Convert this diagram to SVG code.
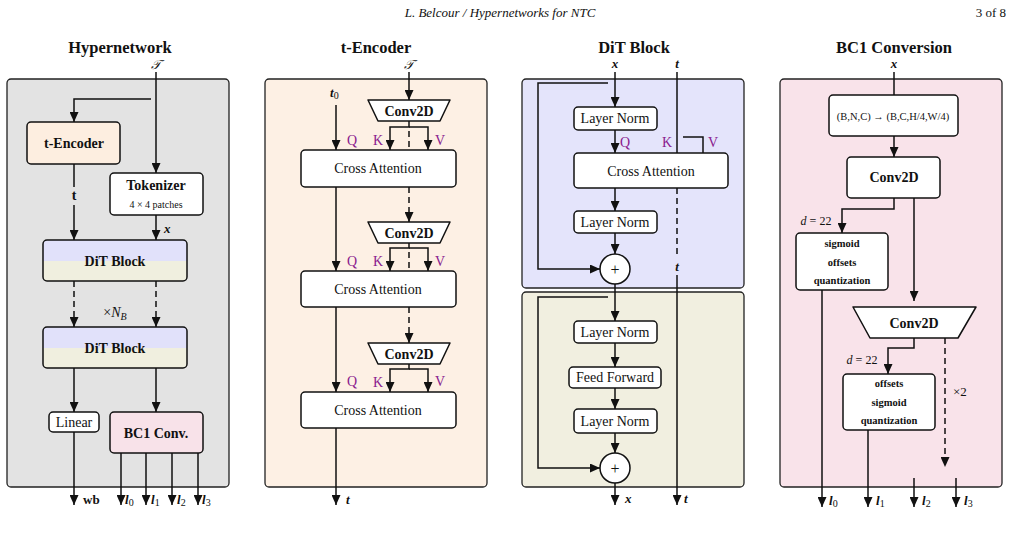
<svg xmlns="http://www.w3.org/2000/svg" width="1012" height="537" viewBox="0 0 1012 537">
<style>
text{font-family:"Liberation Serif","DejaVu Serif",serif;fill:#111}
.ttl{font-size:16.5px;font-weight:bold;text-anchor:middle}
.hd{font-size:13px;font-style:italic}
.lb{font-size:14px;text-anchor:middle}
.bl{font-size:14px;font-weight:bold;text-anchor:middle}
.sm{font-size:10.5px;font-weight:bold;text-anchor:middle}
.pu{font-size:14px;fill:#8a1a8e}
.vi{font-size:13px;font-weight:bold;font-style:italic}
.sub{font-size:10px;font-weight:normal;font-style:normal}
.cal{font-size:13px;font-style:italic;text-anchor:middle}
.panel{stroke:#222;stroke-width:1.3}
.box{fill:#fff;stroke:#111;stroke-width:1.5}
.c{fill:none;stroke:#111;stroke-width:1.5}
.a{marker-end:url(#ah)}
.d{stroke-dasharray:6 4}
</style>
<defs>
<marker id="ah" markerUnits="userSpaceOnUse" markerWidth="10" markerHeight="9" refX="10" refY="4.5" orient="auto">
<path d="M0,0 L10,4.5 L0,9 z" fill="#111"/>
</marker>
<linearGradient id="dit" x1="0" y1="0" x2="0" y2="1">
<stop offset="0.51" stop-color="#e1e1fa"/>
<stop offset="0.51" stop-color="#f0efdf"/>
</linearGradient>
</defs>

<text class="hd" x="500" y="17" text-anchor="middle">L. Belcour / Hypernetworks for NTC</text>
<text x="1006" y="17" font-size="13" text-anchor="end">3 of 8</text>

<!-- Panel backgrounds -->
<g id="panel-hyper">
<rect class="panel" x="7" y="79" width="222" height="408" rx="4" fill="#e3e3e3"/>
<text class="ttl" x="120" y="53">Hypernetwork</text>
<text class="cal" x="156" y="69">𝒯</text>
</g>
<g id="panel-tenc">
<rect class="panel" x="265" y="79" width="222" height="408" rx="4" fill="#fdf0e4"/>
<text class="ttl" x="376" y="53">t-Encoder</text>
<text class="cal" x="409" y="69">𝒯</text>
</g>
<g id="panel-dit">
<rect class="panel" x="522" y="79" width="222" height="209" rx="4" fill="#e4e4fb"/>
<rect class="panel" x="522" y="292" width="222" height="195" rx="4" fill="#f1efe0"/>
<text class="ttl" x="634" y="53">DiT Block</text>
<text class="vi" x="615" y="68" text-anchor="middle">x</text>
<text class="vi" x="677" y="68" text-anchor="middle">t</text>
</g>
<g id="panel-bc1">
<rect class="panel" x="780" y="79" width="222" height="408" rx="4" fill="#f9e3ea"/>
<text class="ttl" x="894" y="53">BC1 Conversion</text>
<text class="vi" x="894" y="68" text-anchor="middle">x</text>
</g>

<!-- Connectors -->
<g id="connectors">
<!-- Hypernetwork -->
<path class="c a" d="M156,72 V173"/>
<path class="c a" d="M151,99 H74 V122"/>
<path class="c" d="M74,164 V187"/>
<path class="c a" d="M74,205 V240"/>
<path class="c a" d="M156,215 V240"/>
<path class="c d a" d="M74,281 V327"/>
<path class="c d a" d="M156,281 V327"/>
<path class="c a" d="M74,368 V412"/>
<path class="c a" d="M156,368 V412"/>
<path class="c a" d="M74,432 V505"/>
<path class="c a" d="M121,453 V505"/>
<path class="c a" d="M146,453 V505"/>
<path class="c a" d="M172,453 V505"/>
<path class="c a" d="M198,453 V505"/>
<!-- t-Encoder -->
<path class="c a" d="M409,72 V100"/>
<path class="c a" d="M336,105 V150"/>
<path class="c a" d="M409,121 V127 H390 V150"/>
<path class="c a" d="M409,127 H428 V150"/>
<path class="c d" d="M409,131 V150"/>
<path class="c d a" d="M409,187 V222"/>
<path class="c a" d="M336,187 V271"/>
<path class="c a" d="M409,243 V248 H390 V271"/>
<path class="c a" d="M409,248 H428 V271"/>
<path class="c d" d="M409,252 V271"/>
<path class="c d a" d="M409,307 V343"/>
<path class="c a" d="M336,307 V392"/>
<path class="c a" d="M409,363 V369 H390 V392"/>
<path class="c a" d="M409,369 H428 V392"/>
<path class="c a" d="M336,428 V505"/>
<!-- DiT -->
<path class="c a" d="M615,72 V107"/>
<path class="c a" d="M608,83 H538 V269 H600"/>
<path class="c a" d="M615,130 V153"/>
<path class="c" d="M677,72 V153"/>
<path class="c" d="M683,137 H703 V153"/>
<path class="c a" d="M615,188 V211"/>
<path class="c a" d="M615,233 V254"/>
<path class="c d" d="M677,188 V258"/>
<path class="c a" d="M677,275 V505"/>
<path class="c a" d="M615,284 V321"/>
<path class="c a" d="M608,297 H538 V468 H600"/>
<path class="c a" d="M615,343 V367"/>
<path class="c a" d="M615,388 V409"/>
<path class="c a" d="M615,433 V453"/>
<path class="c a" d="M615,483 V505"/>
<!-- BC1 -->
<path class="c" d="M894,72 V95"/>
<path class="c a" d="M894,136 V157"/>
<path class="c a" d="M894,198 V209 H842 V233"/>
<path class="c a" d="M914,198 V301"/>
<path class="c a" d="M822,290 V507"/>
<path class="c a" d="M914,338 V348 H888 V374"/>
<path class="c a" d="M868,430 V507"/>
<path class="c d a" d="M945,338 V467"/>
<path class="c a" d="M914,478 V507"/>
<path class="c a" d="M956,478 V507"/>
</g>

<!-- Hypernetwork nodes -->
<g id="h-tenc"><rect class="box" x="27" y="122" width="93" height="42" rx="4" style="fill:#fdeee0"/><text class="bl" x="74" y="148">t-Encoder</text></g>
<g id="h-tok"><rect class="box" x="110" y="173" width="93" height="42" rx="4"/><text class="bl" x="156" y="190">Tokenizer</text><text x="156" y="208" font-size="10" text-anchor="middle">4 × 4 patches</text></g>
<g id="h-dit1"><rect class="box" x="43" y="240" width="144" height="41" rx="4" style="fill:url(#dit)"/><text class="bl" x="115" y="266">DiT Block</text></g>
<g id="h-dit2"><rect class="box" x="43" y="327" width="144" height="41" rx="4" style="fill:url(#dit)"/><text class="bl" x="115" y="353">DiT Block</text></g>
<g id="h-linear"><rect class="box" x="49" y="412" width="50" height="20" rx="4"/><text class="lb" x="74" y="427">Linear</text></g>
<g id="h-bc1"><rect class="box" x="110" y="412" width="93" height="41" rx="4" style="fill:#f8e2e9"/><text class="bl" x="156" y="438">BC1 Conv.</text></g>
<g id="h-labels">
<text class="bl" x="74" y="200">t</text>
<text class="vi" x="164" y="233">x</text>
<text x="115" y="317" font-size="14" text-anchor="middle">×<tspan font-style="italic">N</tspan><tspan font-style="italic" font-size="10" dy="3">B</tspan></text>
<text x="83" y="504" font-size="13" font-weight="bold">wb</text>
<text class="vi" x="125" y="504">l<tspan class="sub" dy="2">0</tspan></text>
<text class="vi" x="151" y="504">l<tspan class="sub" dy="2">1</tspan></text>
<text class="vi" x="177" y="504">l<tspan class="sub" dy="2">2</tspan></text>
<text class="vi" x="202" y="504">l<tspan class="sub" dy="2">3</tspan></text>
</g>

<!-- t-Encoder nodes -->
<g id="e-conv1"><polygon class="box" points="368,100 450,100 440,121 378,121" stroke-linejoin="round"/><text class="bl" x="409" y="116">Conv2D</text></g>
<g id="e-ca1"><rect class="box" x="301" y="150" width="155" height="37" rx="4"/><text class="lb" x="378" y="173">Cross Attention</text></g>
<g id="e-conv2"><polygon class="box" points="368,222 450,222 440,243 378,243" stroke-linejoin="round"/><text class="bl" x="409" y="238">Conv2D</text></g>
<g id="e-ca2"><rect class="box" x="301" y="271" width="155" height="36" rx="4"/><text class="lb" x="378" y="294">Cross Attention</text></g>
<g id="e-conv3"><polygon class="box" points="368,343 450,343 440,364 378,364" stroke-linejoin="round"/><text class="bl" x="409" y="359">Conv2D</text></g>
<g id="e-ca3"><rect class="box" x="301" y="392" width="155" height="36" rx="4"/><text class="lb" x="378" y="415">Cross Attention</text></g>
<g id="e-labels">
<text class="vi" x="330" y="97">t<tspan class="sub" dy="2">0</tspan></text>
<text class="pu" x="347" y="145">Q</text><text class="pu" x="373" y="145">K</text><text class="pu" x="435" y="145">V</text>
<text class="pu" x="347" y="266">Q</text><text class="pu" x="373" y="266">K</text><text class="pu" x="435" y="266">V</text>
<text class="pu" x="347" y="386">Q</text><text class="pu" x="373" y="387">K</text><text class="pu" x="435" y="386">V</text>
<text class="vi" x="346" y="504">t</text>
</g>

<!-- DiT nodes -->
<g id="d-ln1"><rect class="box" x="574" y="107" width="83" height="23" rx="4"/><text class="lb" x="615" y="123">Layer Norm</text></g>
<g id="d-ca"><rect class="box" x="574" y="153" width="154" height="35" rx="4"/><text class="lb" x="651" y="176">Cross Attention</text></g>
<g id="d-ln2"><rect class="box" x="574" y="211" width="83" height="22" rx="4"/><text class="lb" x="615" y="227">Layer Norm</text></g>
<g id="d-add1"><circle class="box" cx="615" cy="269" r="15"/><text x="615" y="274.5" font-size="16" text-anchor="middle" fill="#333">+</text></g>
<g id="d-ln3"><rect class="box" x="574" y="321" width="83" height="22" rx="4"/><text class="lb" x="615" y="337">Layer Norm</text></g>
<g id="d-ff"><rect class="box" x="569" y="367" width="92" height="21" rx="4"/><text class="lb" x="615" y="382">Feed Forward</text></g>
<g id="d-ln4"><rect class="box" x="574" y="409" width="83" height="24" rx="4"/><text class="lb" x="615" y="426">Layer Norm</text></g>
<g id="d-add2"><circle class="box" cx="615" cy="468" r="15"/><text x="615" y="473.5" font-size="16" text-anchor="middle" fill="#333">+</text></g>
<g id="d-labels">
<text class="pu" x="620" y="147">Q</text><text class="pu" x="662" y="147">K</text><text class="pu" x="708" y="147">V</text>
<text class="vi" x="677" y="271" text-anchor="middle">t</text>
<text class="vi" x="625" y="503">x</text>
<text class="vi" x="684" y="503">t</text>
</g>

<!-- BC1 nodes -->
<g id="b-reshape"><rect class="box" x="829" y="95" width="129" height="41" rx="4"/><text x="893" y="120" font-size="10.5" text-anchor="middle">(B,N,C) → (B,C,H/4,W/4)</text></g>
<g id="b-conv1"><rect class="box" x="847" y="157" width="93" height="41" rx="4"/><text class="bl" x="894" y="182">Conv2D</text></g>
<g id="b-q0"><rect class="box" x="796" y="233" width="92" height="57" rx="4"/><text class="sm" x="842" y="247">sigmoid</text><text class="sm" x="842" y="266">offsets</text><text class="sm" x="842" y="284">quantization</text></g>
<g id="b-conv2"><polygon class="box" points="853,307 976,307 958,338 870,338" stroke-linejoin="round"/><text class="bl" x="914" y="328">Conv2D</text></g>
<g id="b-q1"><rect class="box" x="843" y="374" width="92" height="56" rx="4"/><text class="sm" x="889" y="387">offsets</text><text class="sm" x="889" y="406">sigmoid</text><text class="sm" x="889" y="424">quantization</text></g>
<g id="b-labels">
<text x="816" y="225" font-size="12" text-anchor="middle"><tspan font-style="italic">d</tspan> = 22</text>
<text x="862" y="364" font-size="12" text-anchor="middle"><tspan font-style="italic">d</tspan> = 22</text>
<text x="953" y="396" font-size="13">×2</text>
<text class="vi" x="829" y="505">l<tspan class="sub" dy="2">0</tspan></text>
<text class="vi" x="876" y="505">l<tspan class="sub" dy="2">1</tspan></text>
<text class="vi" x="922" y="505">l<tspan class="sub" dy="2">2</tspan></text>
<text class="vi" x="964" y="505">l<tspan class="sub" dy="2">3</tspan></text>
</g>
</svg>
